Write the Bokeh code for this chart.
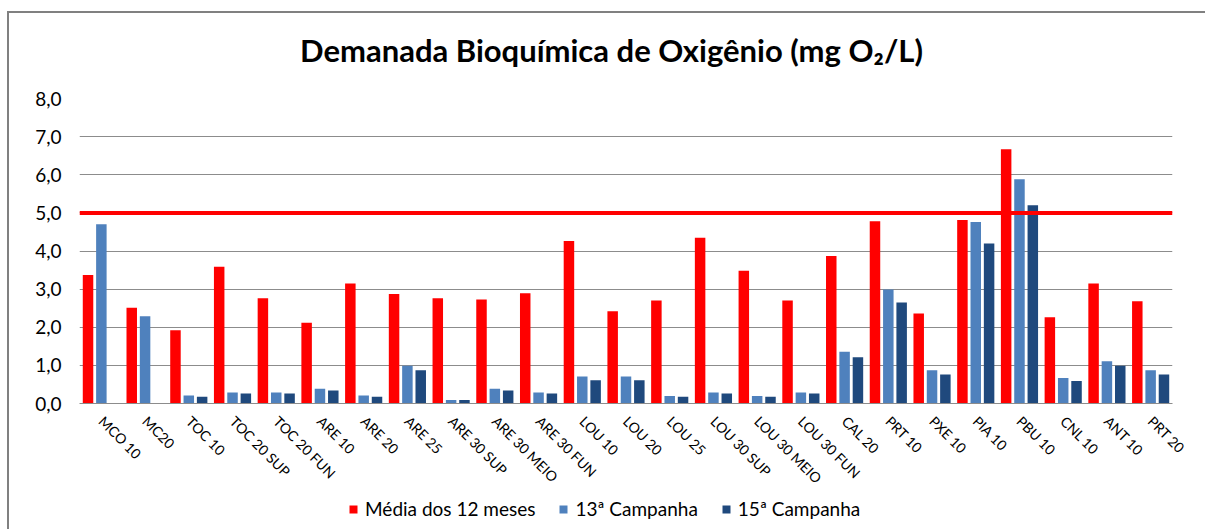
import math
import numpy as np
from bokeh.plotting import figure
from bokeh.layouts import column
from bokeh.models import FactorRange, Range1d, ColumnDataSource, Span, Legend, Label
from bokeh.transform import dodge
from bokeh.embed import file_html
from bokeh.resources import INLINE

categories = ["MCO 10", "MC20", "TOC 10", "TOC 20 SUP", "TOC 20 FUN", "ARE 10", "ARE 20",
              "ARE 25", "ARE 30 SUP", "ARE 30 MEIO", "ARE 30 FUN", "LOU 10", "LOU 20",
              "LOU 25", "LOU 30 SUP", "LOU 30 MEIO", "LOU 30 FUN", "CAL 20", "PRT 10",
              "PXE 10", "PIA 10", "PBU 10", "CNL 10", "ANT 10", "PRT 20"]

media_12_meses = [3.37, 2.51, 1.92, 3.59, 2.76, 2.12, 3.15, 2.87, 2.76, 2.73, 2.89, 4.26, 2.42,
                  2.70, 4.35, 3.48, 2.70, 3.87, 4.78, 2.36, 4.81, 6.67, 2.26, 3.15, 2.68]
campanha_13 = [4.70, 2.29, 0.21, 0.29, 0.29, 0.39, 0.21, 0.99, 0.09, 0.39, 0.29, 0.71, 0.71,
               0.20, 0.29, 0.20, 0.29, 1.36, 2.99, 0.87, 4.76, 5.88, 0.67, 1.11, 0.87]
campanha_15 = [float("nan"), float("nan"), 0.18, 0.26, 0.26, 0.34, 0.18, 0.87, 0.09, 0.34, 0.26,
               0.61, 0.61, 0.18, 0.26, 0.18, 0.26, 1.21, 2.65, 0.76, 4.20, 5.20, 0.59, 0.99, 0.76]
limite = 5.0
y_ticks = [0, 1, 2, 3, 4, 5, 6, 7, 8]
y_tick_labels = ["0,0", "1,0", "2,0", "3,0", "4,0", "5,0", "6,0", "7,0", "8,0"]

title_text = "Demanada Bioquímica de Oxigênio (mg O\u2082/L)"
series_names = ["Média dos 12 meses", "13ª Campanha", "15ª Campanha"]
colors = ["#FF0000", "#4F81BD", "#1F497D"]

FONT = "Lato"
W = 1196
LEFT = 70
RIGHT = 33

source = ColumnDataSource(data=dict(
    cat=categories,
    m=np.array(media_12_meses, dtype=float),
    c13=np.array(campanha_13, dtype=float),
    c15=np.array(campanha_15, dtype=float),
))

# ---- title strip (frame aligned with the main chart by the column) ----
p_top = figure(width=W, height=75, x_range=Range1d(LEFT, W - RIGHT), y_range=Range1d(0, 75),
               x_axis_location=None, y_axis_location=None,
               output_backend="svg", toolbar_location=None, min_border=0)
p_top.grid.visible = False
p_top.outline_line_color = None
p_top.add_layout(Label(x=602, y=39, text=title_text, text_align="center", text_baseline="middle",
                       text_font=FONT, text_font_style="bold", text_font_size="31px",
                       text_color="#000000"))

# ---- main chart ----
p = figure(x_range=FactorRange(factors=categories, range_padding=0),
           y_range=(0, 8),
           width=W, height=410,
           output_backend="svg", toolbar_location=None,
           min_border_left=LEFT, min_border_right=RIGHT,
           min_border_top=10, min_border_bottom=95)

step = 0.305
bw = 0.24
p.vbar(x=dodge("cat", -step, range=p.x_range), top="m", width=bw, source=source,
       fill_color=colors[0], line_color=None)
p.vbar(x=dodge("cat", 0, range=p.x_range), top="c13", width=bw, source=source,
       fill_color=colors[1], line_color=None)
p.vbar(x=dodge("cat", step, range=p.x_range), top="c15", width=bw, source=source,
       fill_color=colors[2], line_color=None)

p.add_layout(Span(location=limite, dimension="width", line_color="#FF0000", line_width=4))

p.outline_line_color = None
p.xgrid.grid_line_color = None
p.ygrid.grid_line_color = "#8C8C8C"
p.ygrid.grid_line_width = 1

p.yaxis.ticker = y_ticks
p.yaxis.major_label_overrides = {t: l for t, l in zip(y_ticks, y_tick_labels)}
p.yaxis.axis_line_color = None
p.yaxis.major_tick_line_color = None
p.yaxis.minor_tick_line_color = None
p.yaxis.major_label_standoff = 12
p.yaxis.major_label_text_font = FONT
p.yaxis.major_label_text_font_size = "19px"
p.yaxis.major_label_text_color = "#000000"

p.xaxis.axis_line_color = "#8C8C8C"
p.xaxis.major_tick_line_color = None
p.xaxis.minor_tick_line_color = None
p.xaxis.major_label_orientation = -math.pi / 4
p.xaxis.major_label_standoff = 9
p.xaxis.major_label_text_font = FONT
p.xaxis.major_label_text_font_size = "14px"
p.xaxis.major_label_text_color = "#000000"

# ---- legend strip ----
p_leg = figure(x_range=FactorRange(factors=categories, range_padding=0),
               y_range=Range1d(100, 101), width=W, height=31,
               x_axis_location=None, y_axis_location=None,
               output_backend="svg", toolbar_location=None, min_border=0)
p_leg.grid.visible = False
p_leg.outline_line_color = None
l1 = p_leg.vbar(x="cat", top="m", width=bw, source=source, fill_color=colors[0], line_color=None)
l2 = p_leg.vbar(x="cat", top="c13", width=bw, source=source, fill_color=colors[1], line_color=None)
l3 = p_leg.vbar(x="cat", top="c15", width=bw, source=source, fill_color=colors[2], line_color=None)

legend = Legend(items=[(series_names[0], [l1]), (series_names[1], [l2]), (series_names[2], [l3])],
                orientation="horizontal", location=(269, 9))
legend.border_line_color = None
legend.background_fill_alpha = 0
legend.padding = 0
legend.margin = 0
legend.spacing = 23
legend.label_standoff = 7
legend.glyph_width = 10
legend.glyph_height = 10
legend.label_text_font = FONT
legend.label_text_font_size = "19px"
legend.label_text_color = "#000000"
p_leg.add_layout(legend, "center")

layout = column(p_top, p, p_leg, spacing=0, margin=(11, 0, 0, 7),
                styles={"border-left": "2px solid #808080", "border-top": "2px solid #808080"})

open("out.html", "w").write(file_html(layout, INLINE))
